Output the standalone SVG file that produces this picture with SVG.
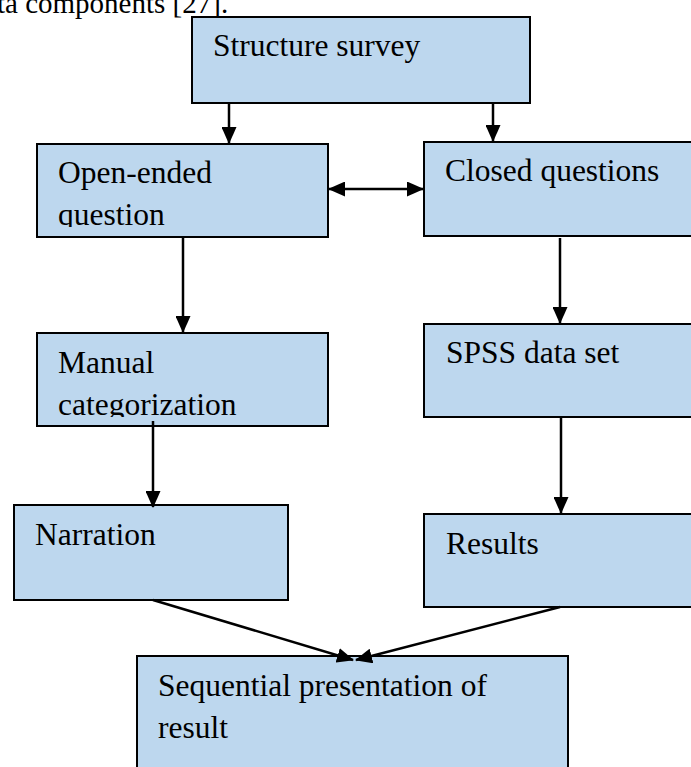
<svg xmlns="http://www.w3.org/2000/svg" width="691" height="767" viewBox="0 0 691 767">
<style>
.box{fill:#bdd7ee;stroke:#000;stroke-width:2}
.t{font-family:"Liberation Serif","Times New Roman",serif;font-size:31.5px;fill:#000}
.c line{stroke:#000;stroke-width:2.5}
</style>
<defs>
<marker id="ah2" markerWidth="17" markerHeight="15" refX="16" refY="7.5" orient="auto-start-reverse" markerUnits="userSpaceOnUse" viewBox="0 0 17 15">
<path d="M0,0 L17,7.5 L0,15 z" fill="#000"/>
</marker>
<clipPath id="cpOpen"><rect x="37" y="144" width="291" height="83"/></clipPath>
<clipPath id="cpMan"><rect x="37" y="333" width="291" height="84"/></clipPath>
</defs>
<text class="t" x="-3" y="13" style="font-size:29px">ta components [27].</text>
<g id="n-structure">
<rect class="box" x="192" y="17" width="338" height="86"/>
<text class="t" x="213" y="56">Structure survey</text>
</g>
<g id="n-open">
<rect class="box" x="37" y="144" width="291" height="93"/>
<g clip-path="url(#cpOpen)">
<text class="t" x="58" y="183">Open-ended</text>
<text class="t" x="58" y="225">question</text>
</g>
</g>
<g id="n-closed">
<rect class="box" x="424" y="142" width="270" height="94"/>
<text class="t" x="445" y="181">Closed questions</text>
</g>
<g id="n-manual">
<rect class="box" x="37" y="333" width="291" height="93"/>
<g clip-path="url(#cpMan)">
<text class="t" x="58" y="373">Manual</text>
<text class="t" x="58" y="415">categorization</text>
</g>
</g>
<g id="n-spss">
<rect class="box" x="424" y="324" width="270" height="93"/>
<text class="t" x="446" y="363">SPSS data set</text>
</g>
<g id="n-narration">
<rect class="box" x="14" y="505" width="274" height="95"/>
<text class="t" x="35" y="545">Narration</text>
</g>
<g id="n-results">
<rect class="box" x="424" y="514" width="270" height="93"/>
<text class="t" x="446" y="554">Results</text>
</g>
<g id="n-sequential">
<rect class="box" x="137" y="656" width="431" height="115"/>
<text class="t" x="158" y="696">Sequential presentation of</text>
<text class="t" x="158" y="738">result</text>
</g>
<g class="c" id="connectors">
<line x1="229" y1="103" x2="229" y2="143" marker-end="url(#ah2)"/>
<line x1="493" y1="103" x2="493" y2="141" marker-end="url(#ah2)"/>
<line x1="329" y1="189" x2="423" y2="189" marker-start="url(#ah2)" marker-end="url(#ah2)"/>
<line x1="183" y1="237" x2="183" y2="332" marker-end="url(#ah2)"/>
<line x1="560" y1="238" x2="560" y2="323" marker-end="url(#ah2)"/>
<line x1="153" y1="421" x2="153" y2="507" marker-end="url(#ah2)"/>
<line x1="561" y1="417" x2="561" y2="513" marker-end="url(#ah2)"/>
<line x1="153" y1="600" x2="353" y2="660" marker-end="url(#ah2)"/>
<line x1="560" y1="607" x2="356" y2="660" marker-end="url(#ah2)"/>
</g>
</svg>
